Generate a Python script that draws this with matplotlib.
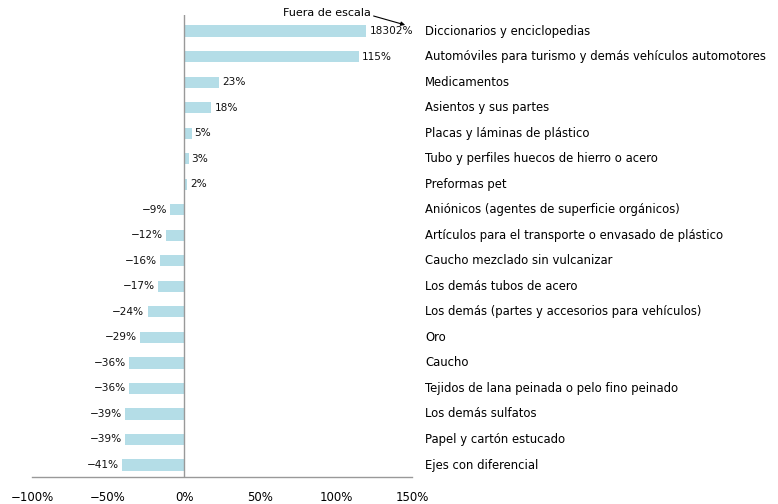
import matplotlib
matplotlib.use("Agg")
import matplotlib.pyplot as plt
from matplotlib.transforms import blended_transform_factory

categorias = [
    "Diccionarios y enciclopedias",
    "Automóviles para turismo y demás vehículos automotores",
    "Medicamentos",
    "Asientos y sus partes",
    "Placas y láminas de plástico",
    "Tubo y perfiles huecos de hierro o acero",
    "Preformas pet",
    "Aniónicos (agentes de superficie orgánicos)",
    "Artículos para el transporte o envasado de plástico",
    "Caucho mezclado sin vulcanizar",
    "Los demás tubos de acero",
    "Los demás (partes y accesorios para vehículos)",
    "Oro",
    "Caucho",
    "Tejidos de lana peinada o pelo fino peinado",
    "Los demás sulfatos",
    "Papel y cartón estucado",
    "Ejes con diferencial",
]
variacion = [18302, 115, 23, 18, 5, 3, 2, -9, -12, -16, -17, -24, -29, -36, -36, -39, -39, -41]
ticks = [-100, -50, 0, 50, 100, 150]
tope_escala = 120  # bars beyond this are drawn cut ("Fuera de escala")

bar_color = "#b4dde7"
gray = "#999999"

fig = plt.figure(figsize=(7.78, 5.04), dpi=100)
ax = fig.add_axes([32/778, (504-477)/504, 380/778, 462/504])

n = len(categorias)
ypos = [n - 1 - i for i in range(n)]
drawn = [min(v, tope_escala) for v in variacion]
ax.barh(ypos, drawn, height=0.44, color=bar_color, zorder=2)

for y, v, d in zip(ypos, variacion, drawn):
    if v >= 0:
        ax.text(d + 2, y, f"{v}%", ha="left", va="center", fontsize=7.6, color="#111111")
    else:
        ax.text(d - 2, y, f"{v}%".replace("-", "−"), ha="right", va="center", fontsize=7.6, color="#111111")

trans = blended_transform_factory(ax.transAxes, ax.transData)
for y, c in zip(ypos, categorias):
    ax.text((425-32)/380, y, c, transform=trans, ha="left", va="center", fontsize=8.35, color="#000000")

ax.axvline(0, color=gray, lw=1.0, zorder=3)
ax.set_xlim(-100, 150)
ax.set_ylim(-0.47, n - 1 + 0.63)
ax.set_xticks(ticks)
ax.set_xticklabels([f"{t}%".replace("-", "−") for t in ticks], fontsize=8.5)
ax.tick_params(axis="x", length=0, pad=10)
ax.set_yticks([])
for s in ["left", "right", "top"]:
    ax.spines[s].set_visible(False)
ax.spines["bottom"].set_color(gray)
ax.spines["bottom"].set_linewidth(1.0)

ax.annotate("Fuera de escala", xy=(145.5, n - 1 + 0.24), xytext=(94, n - 1 + 0.7),
            textcoords="data", ha="center", va="center", fontsize=8, annotation_clip=False,
            arrowprops=dict(arrowstyle="-|>", color="black", lw=0.8, mutation_scale=6,
                            shrinkA=0, shrinkB=0, relpos=(1.0, 0.3)))

fig.savefig("out.png", dpi=100)
